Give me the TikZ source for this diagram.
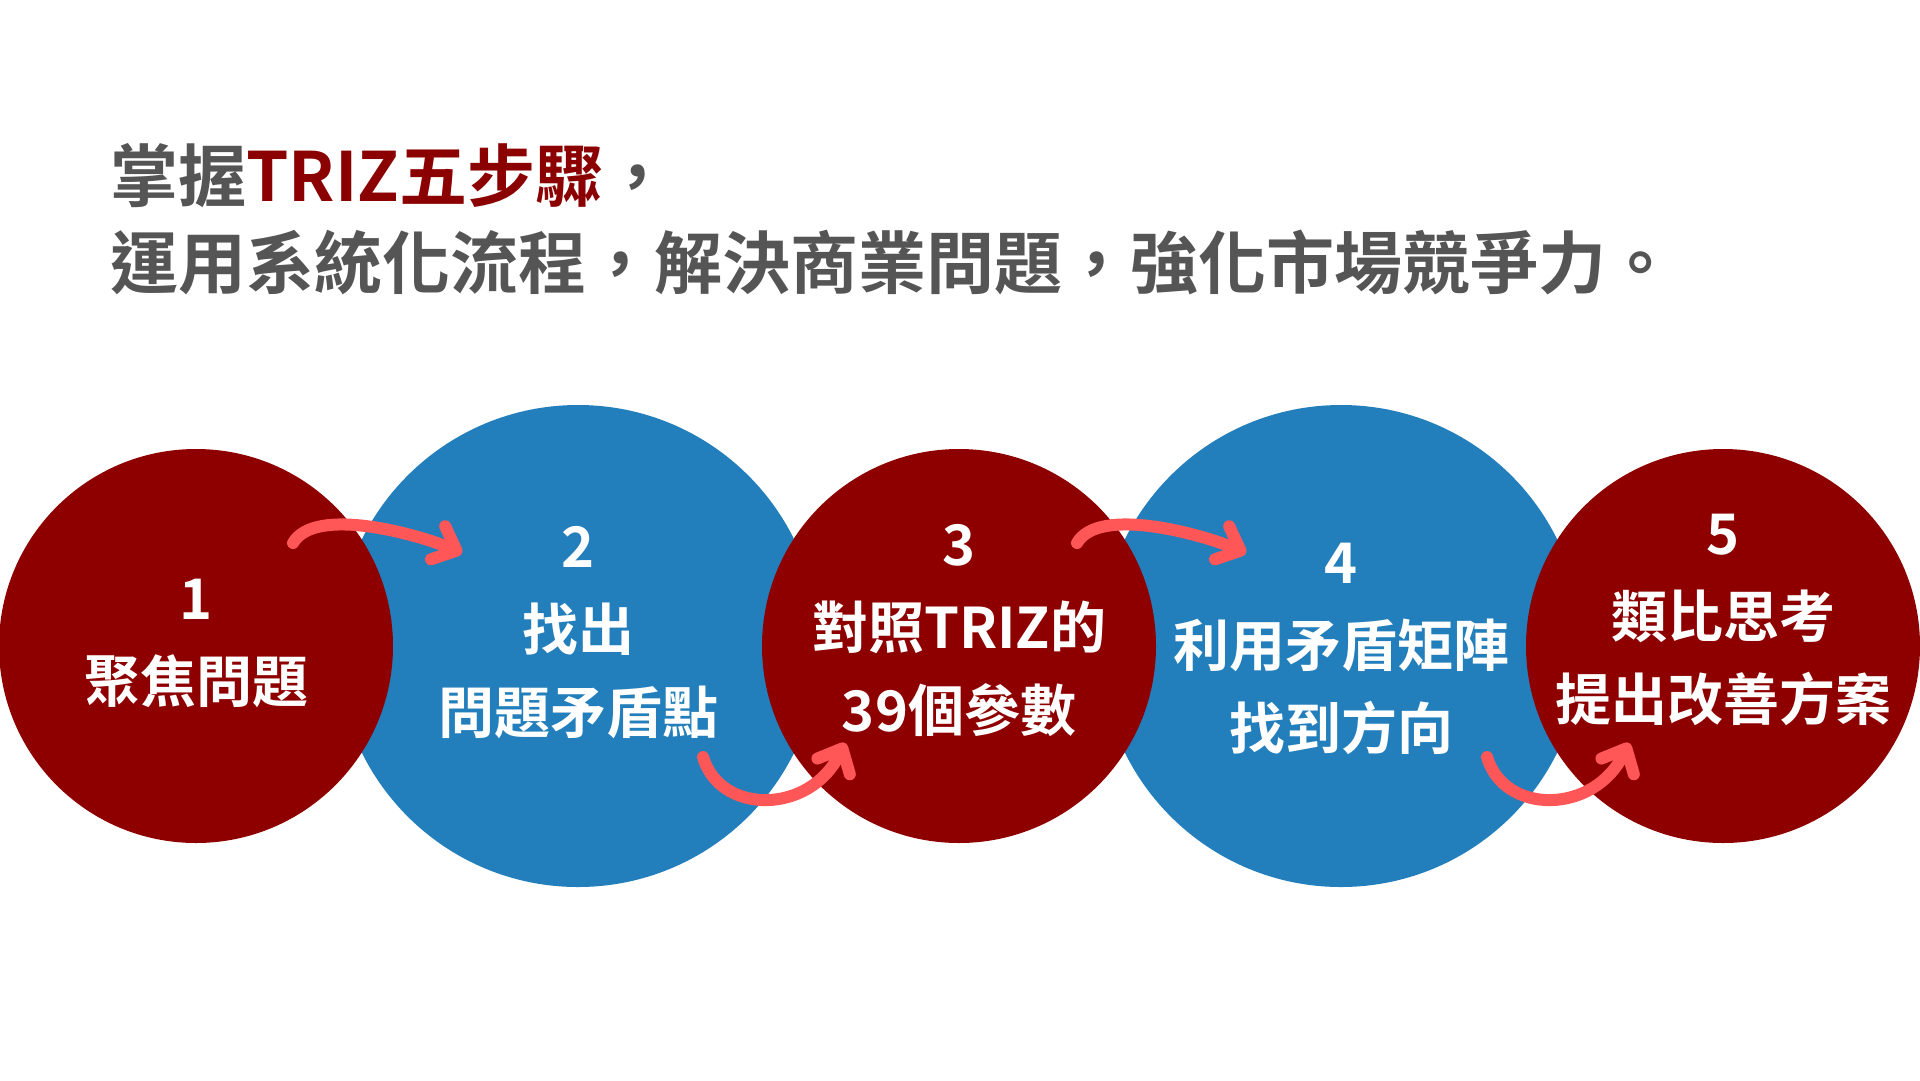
\documentclass[tikz,border=0pt]{standalone}
\usepackage{fontspec}
\setmainfont{Noto Sans CJK TC}[BoldFont={Noto Sans CJK TC Bold}]
\usetikzlibrary{arrows.meta,positioning}

\definecolor{discred}{HTML}{8E0000}
\definecolor{discblue}{HTML}{237FBC}
\definecolor{swooshred}{HTML}{FF5757}
\definecolor{titlegray}{HTML}{555555}
\definecolor{titlered}{HTML}{8B0000}

\tikzset{
  disc/.style={circle,inner sep=0pt,minimum size=#1},
  reddisc/.style={disc=394pt,fill=discred},
  bluedisc/.style={disc=482pt,fill=discblue},
  steptext/.style={text=white,align=center,inner sep=0pt,
    font=\bfseries\fontsize{56}{83}\selectfont},
  swoosh/.style={
    draw=swooshred,line width=12pt,line cap=round,
    -{Straight Barb[length=20pt,width=36pt,round]}
  },
}

\begin{document}
\begin{tikzpicture}[x=1pt,y=-1pt]

\useasboundingbox[fill=white] (0,0) rectangle (1920,1080);

\node[anchor=west,align=left,inner sep=0pt,text=titlegray,
  font=\bfseries\fontsize{68}{87}\selectfont] (title) at (110,219)
  {掌握{\color{titlered}TRIZ五步驟}，\\運用系統化流程，解決商業問題，強化市場競爭力。};

\node[bluedisc] (c2) at (578,646) {};
\node[bluedisc] (c4) at (1341,646) {};
\node[reddisc] (c1) at (196,646) {};
\node[reddisc] (c3) at (959,646) {};
\node[reddisc] (c5) at (1723,646) {};

\coordinate (a1s) at (293,543);
\coordinate (a1e) at (462,553);
\coordinate (a2s) at (703,757);
\coordinate (a2e) at (845,743);
\coordinate (a3s) at (1077,543);
\coordinate (a3e) at (1246,553);
\coordinate (a4s) at (1487,757);
\coordinate (a4e) at (1629,743);

\draw[swoosh] (a1s) .. controls +(22,-38) and +(-42,-18) .. (a1e);
\draw[swoosh] (a3s) .. controls +(22,-38) and +(-42,-18) .. (a3e);
\draw[swoosh] (a2s) .. controls +(17,58) and +(-35,72) .. (a2e);
\draw[swoosh] (a4s) .. controls +(17,58) and +(-35,72) .. (a4e);

\node[steptext] (t1) at (196,643) {1\\聚焦問題};
\node[steptext] (t2) at (578,633) {2\\找出\\問題矛盾點};
\node[steptext] (t3) at (959,631) {3\\對照TRIZ的\\39個參數};
\node[steptext] (t4) at (1341,649) {4\\利用矛盾矩陣\\找到方向};
\node[steptext] (t5) at (1723,620) {5\\類比思考\\提出改善方案};

\end{tikzpicture}
\end{document}
